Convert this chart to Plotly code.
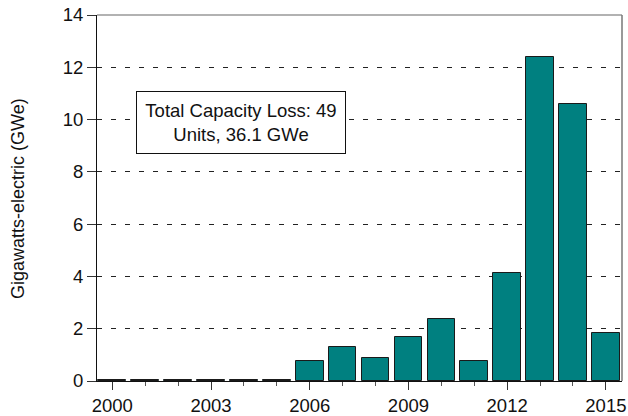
import plotly.graph_objects as go

years = list(range(2000, 2016))
capacity_gwe = [0.05, 0.02, 0.02, 0.02, 0.02, 0.02, 0.77, 1.31, 0.87, 1.69,
                2.36, 0.77, 4.14, 12.41, 10.58, 1.85]
x_tick_vals = [2000, 2003, 2006, 2009, 2012, 2015]
y_tick_vals = [0, 2, 4, 6, 8, 10, 12, 14]
y_title = "Gigawatts-electric (GWe)"
note_text = "Total Capacity Loss: 49<br>Units, 36.1 GWe"

FONT = "Arial, Liberation Sans, sans-serif"

fig = go.Figure(
    go.Bar(
        x=years,
        y=capacity_gwe,
        width=0.84,
        marker={"color": "#008080", "line": {"color": "#1a1a1a", "width": 1}},
    )
)

fig.update_layout(
    width=628,
    height=416,
    paper_bgcolor="white",
    plot_bgcolor="white",
    font={"family": FONT, "size": 18, "color": "#111111"},
    margin={"l": 97, "r": 6, "t": 15, "b": 35},
    showlegend=False,
    bargap=0,
)

fig.update_xaxes(
    range=[1999.535, 2015.49],
    tickvals=x_tick_vals,
    ticks="outside",
    ticklen=8,
    tickcolor="#333333",
    showgrid=False,
    showline=True,
    linecolor="#111111",
    linewidth=1,
    minor={"dtick": 1, "tick0": 2000, "ticks": "outside", "ticklen": 4, "tickcolor": "#555555"},
    tickfont={"size": 18.5},
    automargin=False,
)
fig.update_yaxes(
    range=[0, 14],
    tickvals=y_tick_vals,
    ticks="outside",
    ticklen=9,
    tickcolor="#333333",
    showgrid=True,
    gridcolor="#222222",
    griddash="5px,9px",
    gridwidth=1,
    zeroline=False,
    showline=True,
    linecolor="#111111",
    linewidth=1,
    tickfont={"size": 18.5},
    automargin=False,
)

# gray frame on top and right
fig.add_shape(type="line", xref="paper", yref="paper", x0=1, x1=1, y0=0, y1=1,
              line={"color": "#777777", "width": 1.5})
fig.add_shape(type="line", xref="paper", yref="paper", x0=0, x1=1, y0=1, y1=1,
              line={"color": "#999999", "width": 1.5}, layer="below")

fig.add_annotation(
    x=-0.1505, y=0.5, xref="paper", yref="paper",
    text=y_title, textangle=-90, showarrow=False,
    xanchor="center", yanchor="middle",
    font={"size": 18, "color": "#111111"},
)

fig.add_annotation(
    x=0.274, y=0.706, xref="paper", yref="paper",
    xanchor="center", yanchor="middle",
    text=note_text, showarrow=False, align="center",
    font={"size": 18.5, "color": "#111111"},
    bordercolor="#111111", borderwidth=1, borderpad=0, bgcolor="white",
    width=208, height=61,
)

fig.write_html(
    "out.html",
    config={"displayModeBar": False},
    post_script="document.body.style.margin='0';",
)
